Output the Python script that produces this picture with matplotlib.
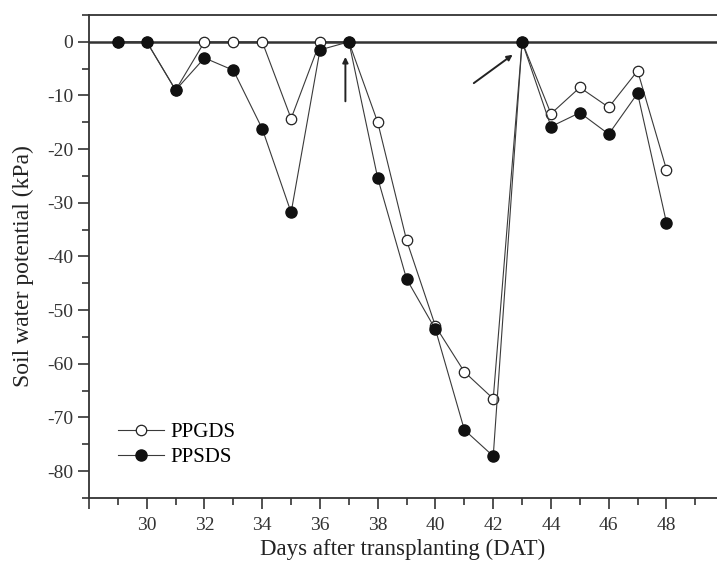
import numpy as np
import matplotlib.pyplot as plt
from matplotlib.ticker import MultipleLocator

plt.rcParams['font.family'] = ['Liberation Serif', 'DejaVu Serif']
plt.rcParams['axes.unicode_minus'] = False

# Days after transplanting
days = np.arange(29, 49)

# Soil water potential (kPa)
ppgds = [0, 0, -9, 0, 0, 0, -14.3, 0, 0, -15.0, -37.0, -53.0, -61.5, -66.5,
         0, -13.4, -8.5, -12.2, -5.4, -23.8]
ppsds = [0, 0, -9.0, -3.0, -5.3, -16.2, -31.8, -1.5, 0, -25.4, -44.2, -53.6,
         -72.3, -77.2, 0, -15.8, -13.2, -17.2, -9.6, -33.7]

fig = plt.figure(figsize=(7.17, 5.63), dpi=100)
ax = fig.add_axes([89 / 717, 1 - 498 / 563, 1 - 89 / 717, (498 - 15) / 563])

line_col = '#3a3a3a'
ax.axhline(0, color='#333333', lw=1.8, zorder=1)

ax.plot(days, ppgds, '-o', color=line_col, lw=0.8, mfc='white', mec='#222222',
        mew=0.9, ms=7.5, label='PPGDS', zorder=3)
ax.plot(days, ppsds, '-o', color=line_col, lw=0.8, mfc='#111111', mec='#111111',
        ms=8, label='PPSDS', zorder=4)

# irrigation arrows
arrow = dict(arrowstyle='-|>', color='#222222', lw=1.4, mutation_scale=8)
ax.annotate('', xy=(36.88, -2.3), xytext=(36.88, -11.6), arrowprops=arrow)
ax.annotate('', xy=(42.75, -2.1), xytext=(41.25, -8.0), arrowprops=arrow)

ax.set_xlim(28, 49.75)
ax.set_ylim(-85, 5)

ax.set_xticks(np.arange(28, 50, 2))
ax.set_xticklabels([''] + [str(v) for v in range(30, 50, 2)])
ax.xaxis.set_minor_locator(MultipleLocator(1))
ax.set_yticks(np.arange(-80, 1, 10))
ax.yaxis.set_minor_locator(MultipleLocator(5))

ax.tick_params(which='major', direction='out', length=8, width=1.2,
               labelsize=14, colors='#333333')
ax.tick_params(which='minor', direction='out', length=5, width=1.2,
               colors='#333333')
ax.tick_params(axis='x', pad=6)

for side in ['left', 'bottom', 'top']:
    ax.spines[side].set_linewidth(1.3)
    ax.spines[side].set_color('#333333')
ax.spines['right'].set_visible(False)

ax.set_xlabel('Days after transplanting (DAT)', fontsize=16.5, color='#222222',
              labelpad=3)
ax.set_ylabel('Soil water potential (kPa)', fontsize=17, color='#222222')
ax.yaxis.set_label_coords(-0.087, 0.48)

ax.legend(loc='lower left', bbox_to_anchor=(0.016, 0.025), frameon=False,
          fontsize=15, handlelength=2.2, handletextpad=0.3, labelspacing=0.25)

fig.savefig('out.png', dpi=100)
